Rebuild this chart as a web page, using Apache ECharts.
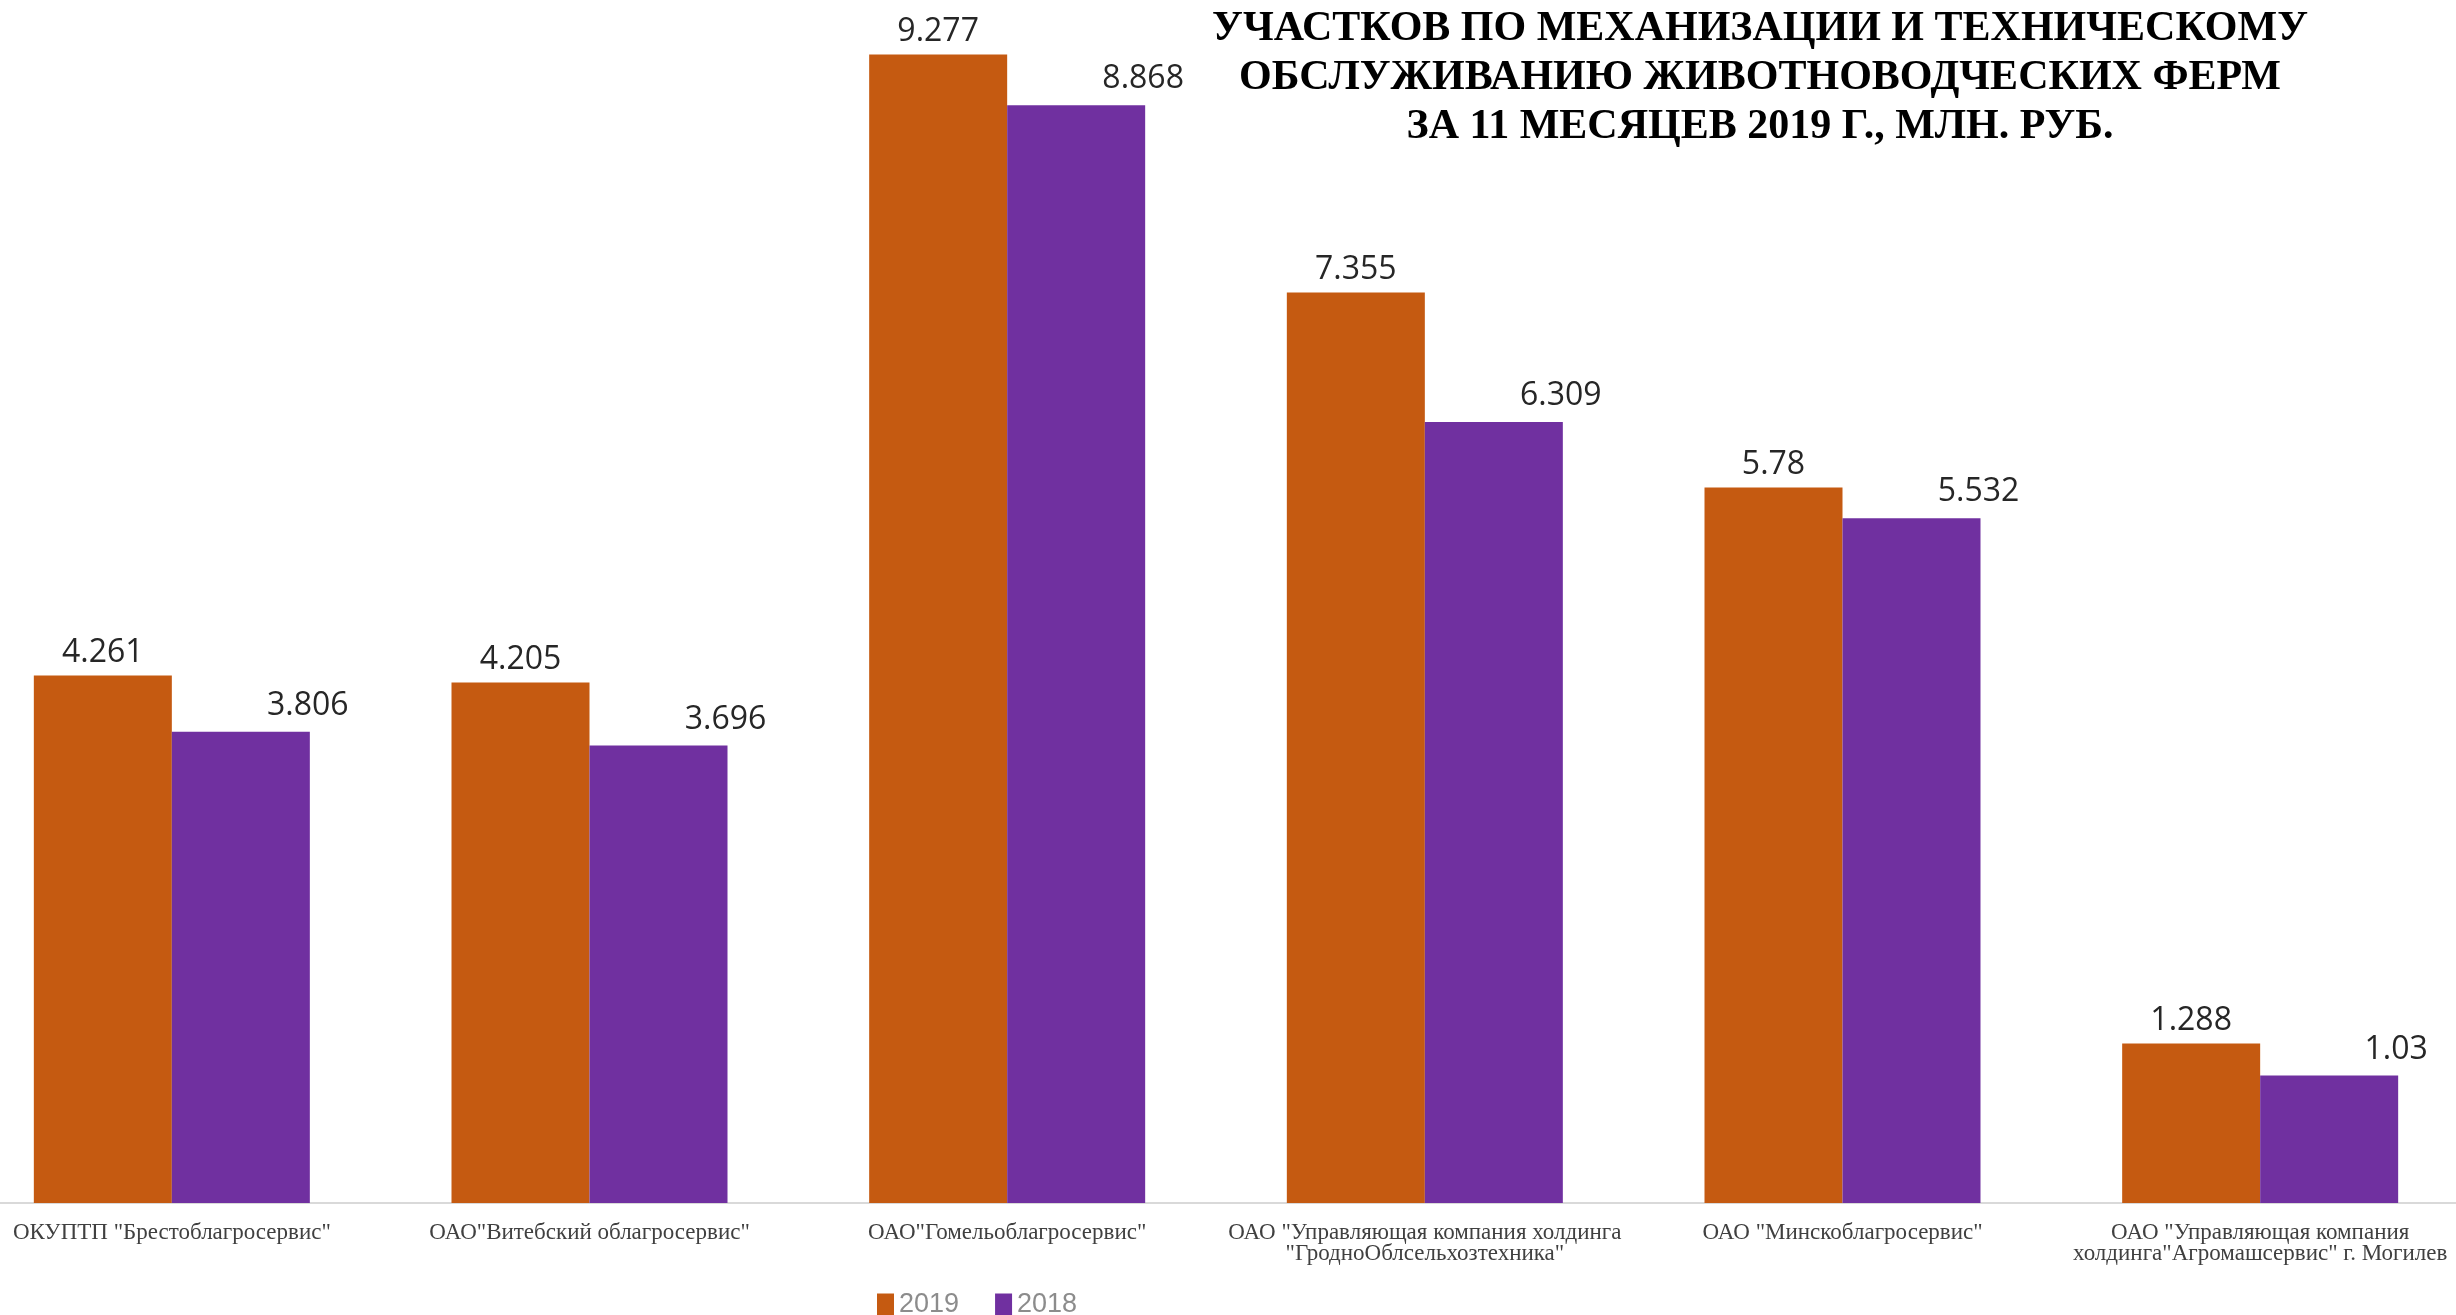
<!DOCTYPE html>
<html>
<head>
<meta charset="utf-8">
<script src="https://cdn.jsdelivr.net/npm/echarts@6/dist/echarts.min.js"></script>
<style>
html,body{margin:0;padding:0;background:#fff;}
#chart{width:2456px;height:1315px;}
</style>
</head>
<body>
<div id="chart"></div>
<script>
const categories = [
  'ОКУПТП "Брестоблагросервис"',
  'ОАО"Витебский облагросервис"',
  'ОАО"Гомельоблагросервис"',
  'ОАО "Управляющая компания холдинга\n"ГродноОблсельхозтехника"',
  'ОАО "Минскоблагросервис"',
  'ОАО "Управляющая компания\nхолдинга"Агромашсервис" г. Могилев'
];
const values2019 = [4.261, 4.205, 9.277, 7.355, 5.78, 1.288];
const values2018 = [3.806, 3.696, 8.868, 6.309, 5.532, 1.03];
const seriesNames = ['2019', '2018'];
const titleText = 'УЧАСТКОВ ПО МЕХАНИЗАЦИИ И ТЕХНИЧЕСКОМУ\nОБСЛУЖИВАНИЮ ЖИВОТНОВОДЧЕСКИХ ФЕРМ\nЗА 11 МЕСЯЦЕВ 2019 Г., МЛН. РУБ.';

const chart = echarts.init(document.getElementById('chart'));
const labelStyle = {
  show: true,
  position: 'top',
  distance: 7,
  color: '#262626',
  fontSize: 32,
  fontFamily: 'Open Sans'
};
chart.setOption({
  animation: false,
  backgroundColor: '#ffffff',
  title: {
    text: titleText,
    left: 1755,
    top: 0,
    textAlign: 'center',
    textStyle: {
      fontFamily: 'Liberation Serif',
      fontWeight: 'bold',
      fontSize: 42,
      lineHeight: 49,
      color: '#000000'
    }
  },
  legend: {
    data: seriesNames,
    left: 872,
    top: 1286,
    icon: 'rect',
    itemWidth: 17,
    itemHeight: 22,
    itemGap: 36,
    itemStyle: { borderWidth: 0 },
    textStyle: { color: '#8c8c8c', fontSize: 27, fontFamily: 'Liberation Sans' }
  },
  grid: {
    left: -37,
    right: -13,
    top: 27,
    bottom: 112,
    outerBoundsMode: 'none'
  },
  xAxis: {
    type: 'category',
    data: categories,
    axisLine: { show: true, lineStyle: { color: '#d9d9d9', width: 2 } },
    axisTick: { show: false },
    axisLabel: {
      interval: 0,
      margin: 19,
      color: '#404040',
      fontSize: 23,
      lineHeight: 21,
      fontFamily: 'Liberation Serif'
    }
  },
  yAxis: {
    type: 'value',
    min: 0,
    max: 9.5,
    show: false,
    splitLine: { show: false }
  },
  series: [
    {
      name: seriesNames[0],
      type: 'bar',
      data: values2019,
      barWidth: 138,
      barGap: '0%',
      itemStyle: { color: '#C55A11' },
      label: Object.assign({}, labelStyle)
    },
    {
      name: seriesNames[1],
      type: 'bar',
      data: values2018,
      barWidth: 138,
      barGap: '0%',
      itemStyle: { color: '#7030A0' },
      label: Object.assign({}, labelStyle, { offset: [67, -3] })
    }
  ]
});
</script>
</body>
</html>
